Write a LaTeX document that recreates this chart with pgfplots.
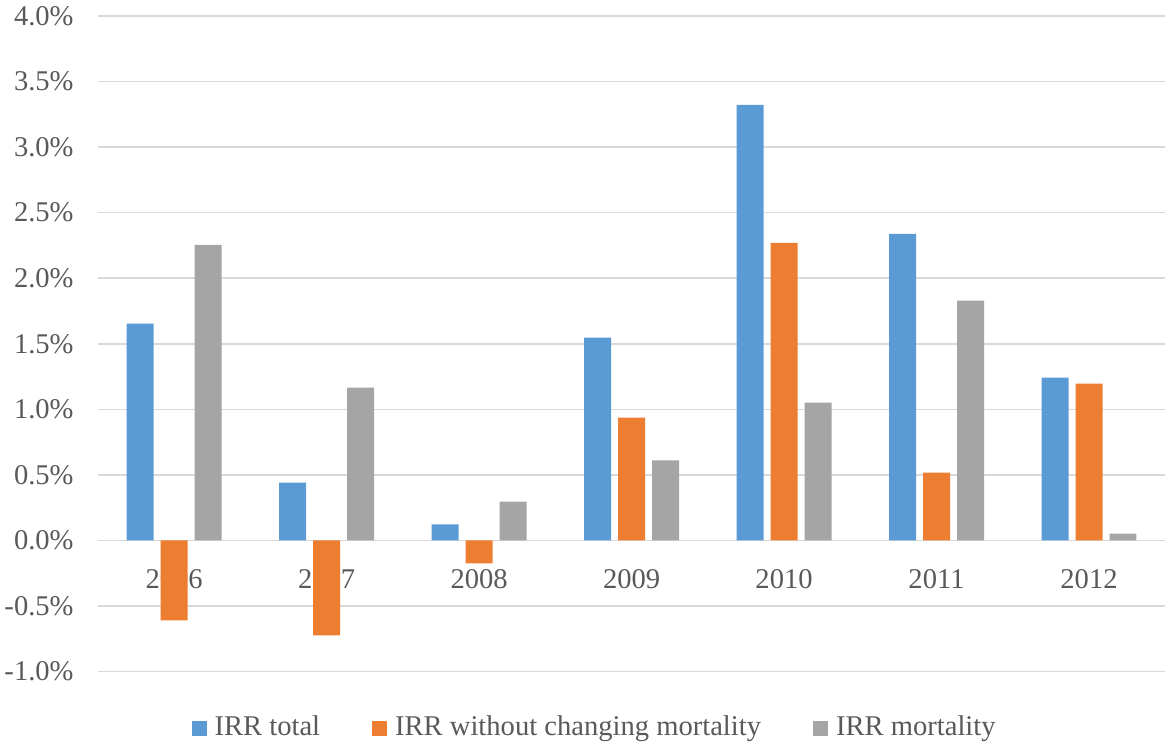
\documentclass[border=0pt]{standalone}
\usepackage{pgfplots}
\pgfplotsset{compat=1.18}
\usepackage{fontspec}
\setmainfont{Liberation Serif}
\definecolor{cblue}{HTML}{5B9BD5}
\definecolor{corange}{HTML}{ED7D31}
\definecolor{cgray}{HTML}{A5A5A5}
\definecolor{gridc}{HTML}{D9D9D9}
\definecolor{txt}{HTML}{595959}
\pgfplotsset{
  layers/mine/.define layer set={axis background,axis grid,axis ticks,axis lines,axis tick labels,main,axis descriptions,axis foreground}{},
}
\begin{document}
\begin{tikzpicture}
\fontsize{14.3}{17}\selectfont
\begin{axis}[
  set layers=mine,
  scale only axis,
  width=534pt, height=328pt,
  ybar=3.5pt, bar width=13.5pt,
  xmin=-0.5, xmax=6.5, ymin=-0.01, ymax=0.04,
  xtick={0,...,6},
  xticklabels={2006,2007,2008,2009,2010,2011,2012},
  ytick={-0.01,-0.005,0,0.005,0.01,0.015,0.02,0.025,0.03,0.035,0.04},
  yticklabel={\pgfmathparse{\tick*100}\pgfmathprintnumber[fixed,fixed zerofill,precision=1]{\pgfmathresult}\%},
  /pgf/number format/assume math mode=true,
  scaled y ticks=false,
  ymajorgrids, xmajorgrids=false,
  grid style={draw=gridc, line width=0.75pt},
  axis line style={draw=none},
  major tick length=0pt,
  tick label style={text=txt, font=\fontsize{14.3}{17}\selectfont},
  yticklabel style={inner sep=0pt, xshift=-12pt},
  xticklabel style={yshift=56pt},
  legend style={draw=none, at={(0.5,-0.055)}, xshift=-18pt, anchor=north, legend columns=3,
    font=\fontsize{14.3}{17}\selectfont, text=txt,
    /tikz/every even column/.append style={column sep=24pt}},
  legend image code/.code={\fill[#1] (0pt,-3.75pt) rectangle (7.5pt,3.75pt); \path (9.5pt,0pt);},
  clip=false,
]
\addplot[fill=cblue, draw=none] coordinates {(0,0.01653) (1,0.00442) (2,0.00122) (3,0.01547) (4,0.03322) (5,0.02339) (6,0.01242)};
\addplot[fill=corange, draw=none] coordinates {(0,-0.0061) (1,-0.00724) (2,-0.00175) (3,0.00937) (4,0.0227) (5,0.00518) (6,0.01196)};
\addplot[fill=cgray, draw=none] coordinates {(0,0.02255) (1,0.01166) (2,0.00297) (3,0.0061) (4,0.01051) (5,0.01829) (6,0.00053)};
\legend{IRR total, IRR without changing mortality, IRR mortality}
\coordinate (sw) at (rel axis cs:0,0);
\end{axis}
\path (sw) ++(-49pt,-35pt) rectangle ++(583pt,371pt);
\end{tikzpicture}
\end{document}
